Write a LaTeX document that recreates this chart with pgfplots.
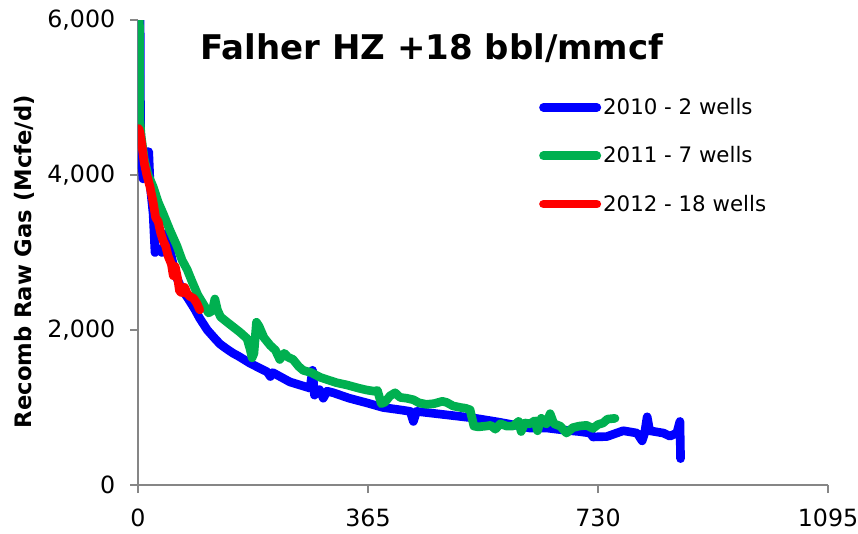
\documentclass[border=0pt]{standalone}
\usepackage{fontspec}
\setmainfont{DejaVu Sans}
\usepackage{pgfplots}
\pgfplotsset{compat=1.18}

\definecolor{sblue}{HTML}{0000FF}
\definecolor{sgreen}{HTML}{00B050}
\definecolor{sred}{HTML}{FF0000}
\definecolor{axgray}{HTML}{868686}

\begin{document}
\begin{tikzpicture}
\begin{axis}[
    name=ax,
    scale only axis,
    width=517.5pt,
    height=348.75pt,
    xmin=0, xmax=1095,
    ymin=0, ymax=6000,
    axis lines=left,
    axis line style={-, axgray, line width=1.1pt},
    tick style={axgray, line width=1.1pt},
    tick align=outside,
    major tick length=6pt,
    xtick={0,365,730,1095},
    xticklabels={0,365,730,1095},
    ytick={0,2000,4000,6000},
    yticklabels={0,{2,000},{4,000},{6,000}},
    tick label style={font=\fontsize{17.8}{21}\selectfont},
    xticklabel shift=8.75pt,
    yticklabel shift=7.5pt,
    ylabel={\bfseries Recomb Raw Gas (Mcfe/d)},
    ylabel style={font=\fontsize{17}{20}\selectfont, at={(-0.165,0.48)}, anchor=center},
    title={\bfseries Falher HZ +18 bbl/mmcf},
    title style={font=\fontsize{25.5}{30}\selectfont, at={(0.426,0.897)}, anchor=base},
    legend style={draw=none, fill=none, at={(0.581,0.8335)}, anchor=north west,
        font=\fontsize{16}{19}\selectfont, row sep=21.6pt, column sep=1pt,
        inner sep=0pt, nodes={inner sep=0.5pt}},
    legend cell align=left,
    legend image code/.code={\draw[#1, line width=6.5pt, line cap=round] (0pt,0pt) -- (40pt,0pt);},
    every axis plot/.append style={line width=6.5pt, line join=round, line cap=round},
]
\addplot[sblue] coordinates {
 (2,9000) (4,4600) (5,4300) (8,3950) (13,4300) (17,4300) (19,3900) (24,3500)
 (27,3000) (31,3050) (38,3000) (46,3250) (53,2950) (60,2700) (70,2520) (80,2400)
 (90,2270) (98,2150) (110,2000) (122,1890) (130,1820) (140,1760) (151,1700) (160,1660)
 (178,1570) (195,1500) (205,1460) (210,1400) (214,1450) (241,1330) (273,1250) (277,1480)
 (280,1160) (288,1230) (294,1120) (300,1210) (310,1190) (335,1120) (363,1060) (389,1000)
 (416,970) (432,950) (437,820) (442,950) (463,930) (495,900) (532,865) (570,815)
 (600,770) (622,735) (649,735) (675,710) (700,690) (718,670) (722,620) (744,625)
 (770,700) (792,670) (800,570) (804,670) (808,880) (812,700) (834,670) (844,630)
 (855,670) (860,820) (861,340)
};
\addlegendentry{2010 - 2 wells}
\addplot[sgreen] coordinates {
 (1,8000) (3,4700) (5,4500) (10,4200) (16,4000) (24,3850) (32,3650) (40,3500)
 (50,3300) (62,3080) (70,2900) (78,2780) (86,2620) (95,2450) (104,2330) (112,2220)
 (118,2250) (122,2400) (126,2260) (131,2170) (140,2110) (151,2040) (162,1970) (173,1890)
 (178,1750) (181,1640) (184,1700) (188,2100) (192,2050) (200,1900) (210,1800) (218,1740)
 (225,1620) (232,1700) (238,1650) (246,1620) (255,1530) (262,1480) (275,1450) (289,1390)
 (300,1360) (315,1320) (332,1290) (350,1250) (363,1225) (375,1210) (380,1220) (386,1050)
 (392,1070) (400,1150) (408,1190) (416,1130) (426,1120) (437,1100) (446,1060) (458,1040)
 (470,1050) (483,1080) (490,1065) (500,1020) (512,1000) (520,990) (527,970) (533,760)
 (540,750) (552,760) (560,770) (567,720) (575,790) (585,760) (595,760) (604,820)
 (608,690) (614,800) (622,790) (630,830) (634,700) (640,860) (648,790) (654,920)
 (660,790) (670,760) (680,670) (690,740) (700,760) (712,770) (722,730) (730,780)
 (738,800) (745,850) (757,860)
};
\addlegendentry{2011 - 7 wells}
\addplot[sred] coordinates {
 (1,4600) (3,4550) (6,4400) (10,4150) (14,4000) (19,3850) (24,3650) (28,3450)
 (32,3400) (36,3250) (40,3150) (44,3080) (48,2950) (53,2850) (56,2700) (59,2820)
 (63,2660) (66,2500) (70,2480) (74,2550) (78,2470) (83,2430) (88,2410) (93,2350)
 (98,2260)
};
\addlegendentry{2012 - 18 wells}
\end{axis}
\pgfresetboundingbox
\path[use as bounding box] ([shift={(-103.5pt,-36.75pt)}]ax.south west) rectangle ([shift={(22.5pt,15pt)}]ax.north east);
\end{tikzpicture}
\end{document}
